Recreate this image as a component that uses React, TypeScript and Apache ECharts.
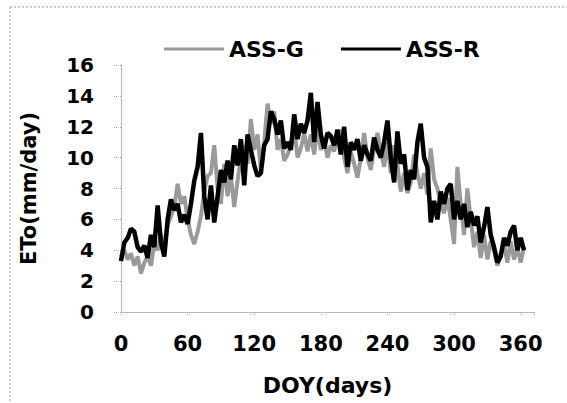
import React, { useEffect, useRef } from "react";
import * as echarts from "echarts";

const days: number[] = [];
for (let d = 0; d <= 363; d += 3) days.push(d);

const assG: number[] = [
  3.6, 4.0, 3.4, 3.8, 3.0, 3.6, 2.5, 3.2, 3.6, 3.0,
  4.4, 4.0, 5.0, 3.8, 5.6, 6.2, 6.8, 8.3, 7.0, 7.5,
  6.0, 5.0, 4.4, 5.2, 6.2, 7.8, 8.8, 9.0, 10.8, 8.0,
  7.0, 9.6, 7.5, 8.8, 6.8, 8.5, 10.0, 10.8, 9.6, 12.5,
  10.5, 11.5, 9.2, 11.0, 13.5, 12.2, 13.0, 10.5, 11.2, 9.8,
  10.2, 10.8, 12.0, 10.0, 10.6, 11.6, 10.4, 11.5, 10.2, 12.0,
  10.5, 11.2, 10.0, 10.8, 10.4, 11.4, 11.8, 10.0, 9.0, 10.4,
  9.6, 8.7, 10.0, 11.6, 10.0, 9.2, 10.6, 11.6, 10.4, 9.4,
  11.0, 9.0, 10.8, 9.5, 7.8, 9.0, 7.7, 8.4, 10.2, 9.0,
  8.0, 9.0, 7.6, 10.6, 8.6, 8.0, 7.0, 6.4, 7.4, 6.0,
  4.4, 9.4, 7.0, 5.0, 8.0, 6.0, 4.2, 5.2, 3.5, 5.0,
  3.4, 4.6, 4.0, 3.0, 3.8, 4.4, 3.2, 4.6, 3.4, 4.2,
  3.2, 4.2,
];

const assR: number[] = [
  3.3, 4.5, 4.8, 5.4, 5.2, 4.2, 3.9, 4.3, 3.5, 5.0,
  4.2, 6.9, 4.5, 3.6, 6.0, 7.3, 6.6, 7.0, 5.8, 6.3,
  5.7, 7.0, 8.5, 9.4, 11.6, 7.5, 6.0, 8.2, 5.8, 7.5,
  9.2, 8.4, 9.8, 8.6, 10.8, 9.5, 11.2, 8.2, 11.5, 10.5,
  9.5, 8.8, 9.0, 10.8, 11.2, 13.0, 12.5, 11.5, 12.4, 10.6,
  11.0, 10.5, 12.8, 11.2, 12.2, 11.6, 12.4, 14.2, 11.0, 13.6,
  11.5, 10.6, 11.6, 11.4, 10.8, 11.8, 10.2, 12.0, 9.4, 11.0,
  10.5, 11.2, 9.8, 10.8, 10.2, 9.8, 11.3, 10.5, 10.0, 11.0,
  12.4, 10.0, 8.4, 11.7, 9.6, 10.2, 7.9, 9.2, 8.6, 11.0,
  12.2, 10.0, 9.4, 5.8, 7.2, 6.0, 7.8, 7.0, 8.0, 8.3,
  6.0, 7.2, 6.0, 7.0, 5.5, 6.5, 5.6, 6.2, 4.5, 5.5,
  6.8, 5.0, 4.2, 3.2, 3.6, 4.8, 4.3, 5.2, 5.6, 4.0,
  4.8, 4.0,
];

const xTicks = [0, 60, 120, 180, 240, 300, 360];
const yTicks = [0, 2, 4, 6, 8, 10, 12, 14, 16];

const FONT = "DejaVu Sans, Verdana, sans-serif";

export default function App() {
  const ref = useRef<HTMLDivElement>(null);
  useEffect(() => {
    if (!ref.current) return;
    const chart = echarts.init(ref.current, null, { renderer: "svg" });
    const axisLineStyle = { color: "#aaa", width: 1, type: "dotted" as const };
    chart.setOption({
      animation: false,
      backgroundColor: "#fff",
      legend: {
        top: 33,
        left: 159,
        icon: "rect",
        itemWidth: 60,
        itemHeight: 3,
        itemGap: 37,
        textStyle: { fontFamily: FONT, fontWeight: "bold", fontSize: 22, color: "#000" },
        data: ["ASS-G", "ASS-R"],
      },
      grid: { left: 121, right: 33, top: 65, bottom: 91 },
      xAxis: {
        type: "value",
        min: 0,
        max: 372,
        interval: 60,
        name: "DOY(days)",
        nameLocation: "middle",
        nameGap: 62,
        nameTextStyle: { fontFamily: FONT, fontWeight: "bold", fontSize: 22, color: "#000" },
        axisLine: { show: true, lineStyle: axisLineStyle },
        axisTick: { show: true, length: 4, lineStyle: axisLineStyle },
        splitLine: { show: false },
        axisLabel: {
          margin: 21,
          fontFamily: FONT,
          fontWeight: "bold",
          fontSize: 21,
          color: "#000",
          formatter: (v: number) => (xTicks.includes(v) ? String(v) : ""),
        },
      },
      yAxis: {
        type: "value",
        min: 0,
        max: 16,
        interval: 2,
        name: "ETo(mm/day)",
        nameLocation: "middle",
        nameGap: 82,
        nameTextStyle: { fontFamily: FONT, fontWeight: "bold", fontSize: 21, color: "#000" },
        axisLine: { show: true, lineStyle: axisLineStyle },
        axisTick: { show: true, length: 7, lineStyle: axisLineStyle },
        splitLine: { show: false },
        axisLabel: {
          margin: 27,
          fontFamily: FONT,
          fontWeight: "bold",
          fontSize: 20,
          color: "#000",
          formatter: (v: number) => (yTicks.includes(v) ? String(v) : ""),
        },
      },
      graphic: [
        { type: "line", shape: { x1: 10, y1: 7, x2: 10, y2: 403 }, style: { stroke: "#999", lineDash: [2, 2], lineWidth: 1 } },
        { type: "line", shape: { x1: 10, y1: 7, x2: 567, y2: 7 }, style: { stroke: "#999", lineDash: [2, 2], lineWidth: 1 } },
      ],
      series: [
        {
          name: "ASS-G",
          type: "line",
          showSymbol: false,
          symbol: "none",
          itemStyle: { color: "#9a9a9a" },
          lineStyle: { color: "#9a9a9a", width: 4 },
          data: days.map((d, i) => [d, assG[i]]),
        },
        {
          name: "ASS-R",
          type: "line",
          showSymbol: false,
          symbol: "none",
          itemStyle: { color: "#000" },
          lineStyle: { color: "#000", width: 4.5 },
          data: days.map((d, i) => [d, assR[i]]),
        },
      ],
    });
    return () => chart.dispose();
  }, []);
  return (
    <div
      ref={ref}
      style={{ position: "fixed", left: 0, top: 0, width: 567, height: 403 }}
    />
  );
}
